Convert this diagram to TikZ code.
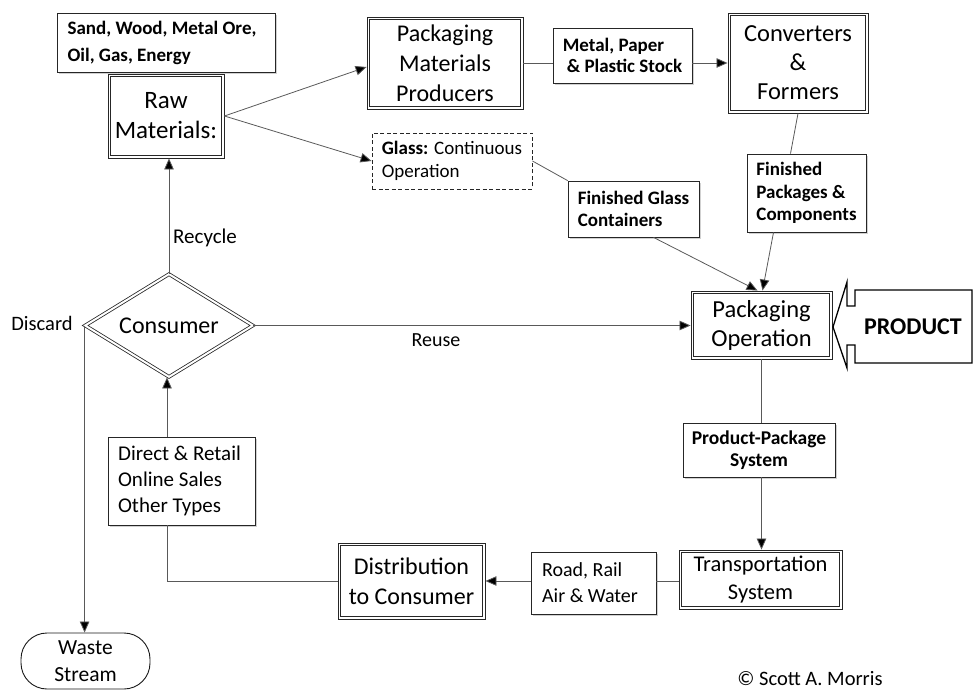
\documentclass[tikz,border=0pt]{standalone}
\usepackage{fontspec}
\setmainfont{Carlito}
\usetikzlibrary{arrows.meta,shapes.geometric,shadows,calc}
\tikzset{
  dbox/.style={draw=black!85, line width=0.9pt, fill=white, align=center, inner sep=0pt},
  dinner/.style={draw=black!85, line width=0.9pt},
  sbox/.style={draw=black!85, line width=0.8pt, fill=white, inner sep=0pt,
    drop shadow={shadow xshift=2pt, shadow yshift=-2pt, fill=black!40, opacity=0.45}},
  conn/.style={draw=black!65, line width=0.8pt},
  arr/.style={-{Triangle[length=11pt,width=9.5pt,fill=black]}},
  lbl/.style={inner sep=0pt}
}
\newcommand\fsz[2]{\fontsize{#1}{#2}\selectfont}
\begin{document}
\begin{tikzpicture}[x=1pt,y=-1pt]
\useasboundingbox (0,0) rectangle (973,692);

% nodes
\node[sbox, minimum width=218pt, minimum height=59pt, align=left, font=\fsz{19}{27}\bfseries] (sand) at (166,42.5) {Sand, Wood, Metal Ore,\hspace*{8pt}\\Oil, Gas, Energy\hspace*{62pt}};
\node[dbox, minimum width=116pt, minimum height=84pt, font=\fsz{25}{30}] (raw) at (166,116) {Raw\\Materials:};
\node[dbox, minimum width=156pt, minimum height=92pt, font=\fsz{24}{30}] (pmp) at (445,63) {Packaging\\Materials\\Producers};
\node[sbox, minimum width=139pt, minimum height=55pt, align=left, font=\fsz{19}{21}\bfseries] (metal) at (622.5,55.5) {Metal, Paper\\\hspace*{4pt}\& Plastic Stock};
\node[dbox, minimum width=140pt, minimum height=100pt, font=\fsz{24.5}{29}] (conv) at (798,63) {Converters\\\&\\Formers};
\node[draw=black!85, dash pattern=on 4pt off 2.5pt, line width=0.9pt, fill=white, inner sep=0pt, minimum width=160pt, minimum height=56pt, align=left, font=\fsz{19}{23}] (glass) at (452,161) {\textbf{Glass:} Continuous\\Operation};
\node[sbox, minimum width=131pt, minimum height=56pt, align=left, font=\fsz{19}{22}\bfseries] (fgc) at (633.5,209) {Finished Glass\\Containers};
\node[sbox, minimum width=119pt, minimum height=78pt, align=left, font=\fsz{19}{22.5}\bfseries] (fpc) at (806.5,193) {Finished\\Packages \&\\Components};
\node[dbox, minimum width=141pt, minimum height=68pt, font=\fsz{24.5}{29}] (pkop) at (761.5,325) {Packaging\\Operation};
\node[lbl, font=\fsz{24}{28}\bfseries] (product) at (913,327) {PRODUCT};
\node[diamond, shape aspect=1.63, draw=black!85, double=white, double distance=2pt, line width=0.8pt, fill=white, inner sep=0pt, minimum width=168pt, minimum height=103pt, font=\fsz{24}{28}] (consumer) at (169,325.5) {Consumer};
\node[sbox, minimum width=147pt, minimum height=88pt, align=left, font=\fsz{21}{26}] (direct) at (181.5,481) {Direct \& Retail\hspace*{4pt}\\Online Sales\\Other Types};
\node[dbox, minimum width=147pt, minimum height=76pt, font=\fsz{24}{30}] (dist) at (411.5,581) {Distribution\\to Consumer};
\node[sbox, minimum width=125pt, minimum height=62pt, align=left, font=\fsz{20}{26}] (road) at (593.5,583) {Road, Rail\\Air \& Water\hspace*{7pt}};
\node[dbox, minimum width=163pt, minimum height=59pt, font=\fsz{22.5}{28}] (trans) at (760.5,579.5) {Transportation\\System};
\node[sbox, minimum width=152pt, minimum height=54pt, align=center, font=\fsz{19.5}{22}\bfseries] (pps) at (759,450) {Product-Package\\System};
\node[draw=black!90, line width=0.9pt, rounded corners=26pt, fill=white, inner sep=0pt, minimum width=129pt, minimum height=56pt, align=center, font=\fsz{21.5}{27}] (waste) at (85.5,661) {Waste\\Stream};

% inner lines of the double-bordered boxes
\foreach \n in {raw,pmp,conv,pkop,dist,trans}
  \draw[dinner] ($(\n.north west)+(3pt,-3pt)$) rectangle ($(\n.south east)+(-3pt,3pt)$);

% labels
\node[lbl, font=\fsz{20.5}{24}] (discard) at (42,323) {Discard};
\node[lbl, font=\fsz{21}{24}] (recycle) at (205,238) {Recycle};
\node[lbl, font=\fsz{20}{24}] (reuse) at (436,340) {Reuse};
\node[lbl, font=\fsz{20.5}{24}] (copy) at (810,679) {© Scott A. Morris};

% product arrow callout
\draw[black, line width=1.3pt, line join=miter] (833,327) -- (847,282) -- (847,306) -- (855,306) -- (855,290) -- (972,290) -- (972,363) -- (855,363) -- (855,345) -- (847,345) -- (847,368) -- cycle;

% connectors
\draw[conn, arr] (raw.east) -- ($(pmp.west)+(0,4)$);
\draw[conn, arr] (raw.east) -- (glass.west);
\draw[conn] (pmp.east) -- (metal.west |- pmp.east);
\draw[conn, arr] (metal.east |- conv.west) -- (conv.west);
\draw[conn] (conv.south) -- ($(fpc.north)+(-16,0)$);
\draw[conn, arr] ($(fpc.south)+(-33,0)$) -- ($(pkop.north)+(1,0)$);
\draw[conn] (glass.east) -- (fgc.north west);
\draw[conn, arr] ($(fgc.south)+(20,0)$) -- ($(pkop.north)+(-4,0)$);
\draw[conn, arr] (consumer.north) -- (consumer.north |- raw.south);
\draw[conn, arr] (consumer.east) -- (consumer.east -| pkop.west);
\draw[conn, arr] (consumer.west) -- (consumer.west |- waste.north);
\draw[conn] (pkop.south) -- (pkop.south |- pps.north);
\draw[conn, arr] (pkop.south |- pps.south) -- (pkop.south |- trans.north);
\draw[conn] (trans.west |- dist.east) -- (road.east |- dist.east);
\draw[conn, arr] (road.west |- dist.east) -- (dist.east);
\draw[conn] (dist.west) -| ($(consumer.south |- direct.south)+(-2,0)$);
\draw[conn, arr] ($(consumer.south |- direct.north)+(-2,0)$) -- ($(consumer.south)+(-2,0)$);
\end{tikzpicture}
\end{document}
